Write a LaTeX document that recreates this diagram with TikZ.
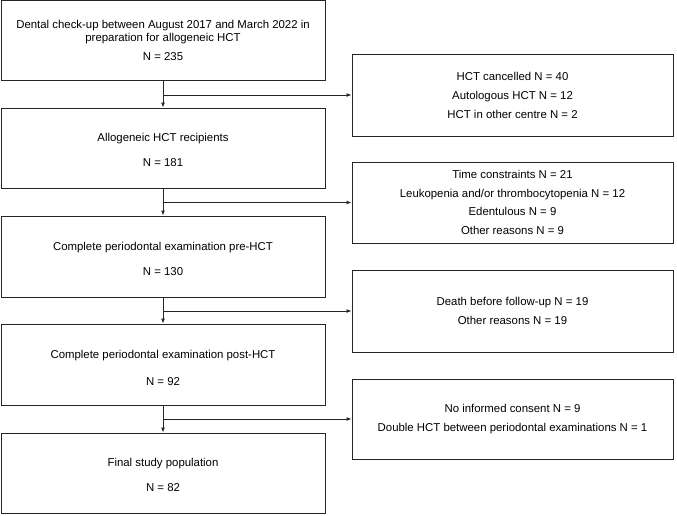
\documentclass[tikz,border=0pt]{standalone}
\usepackage{fontspec}
\setmainfont{Liberation Sans}
\usetikzlibrary{arrows.meta}
\begin{document}
\begin{tikzpicture}[x=1pt,y=-1pt,
  box/.style={draw=black!85, line width=0.9pt, inner sep=0pt},
  lbox/.style={box, minimum width=324pt, minimum height=80pt},
  rbox/.style={box, minimum width=321pt, align=center, font=\fontsize{11.4}{19}\selectfont},
  txt/.style={anchor=base, inner sep=0pt, font=\fontsize{11.4}{13.7}\selectfont},
  arr/.style={draw=black!85, line width=0.9pt, -{Latex[length=5pt,width=4pt]}}
]
\useasboundingbox (0,0) rectangle (677,515);

% left column boxes
\node[lbox] (B1) at (163,40.5) {};
\node[lbox] (B2) at (163,148) {};
\node[lbox, minimum height=81pt] (B3) at (163,256.5) {};
\node[lbox, minimum height=81pt] (B4) at (163,364.5) {};
\node[lbox] (B5) at (163,473) {};

% left texts
\node[txt] (t1a) at (163,28) {Dental check-up between August 2017 and March 2022 in};
\node[txt] (t1b) at (163,41) {preparation for allogeneic HCT};
\node[txt] (t1c) at (163,60) {N = 235};
\node[txt] (t2a) at (163,141) {Allogeneic HCT recipients};
\node[txt] (t2b) at (163,166) {N = 181};
\node[txt] (t3a) at (163,250) {Complete periodontal examination pre-HCT};
\node[txt] (t3b) at (163,275) {N = 130};
\node[txt] (t4a) at (163,358.5) {Complete periodontal examination post-HCT};
\node[txt] (t4b) at (163,385) {N = 92};
\node[txt] (t5a) at (163,466) {Final study population};
\node[txt] (t5b) at (163,491) {N = 82};

% right column boxes
\node[rbox, minimum height=82pt] (R1) at (512.5,95) {HCT cancelled N = 40\\Autologous HCT N = 12\\HCT in other centre N = 2};
\node[rbox, minimum height=81pt, font=\fontsize{11.4}{18.6}\selectfont] (R2) at (512.5,202.5) {Time constraints N = 21\\Leukopenia and/or thrombocytopenia N = 12\\Edentulous N = 9\\Other reasons N = 9};
\node[rbox, minimum height=82pt] (R3) at (512.5,311) {Death before follow-up N = 19\\Other reasons N = 19};
\node[rbox, minimum height=80pt] (R4) at (512.5,419) {No informed consent N = 9\\Double HCT between periodontal examinations N = 1};

% vertical arrows
\draw[arr] (B1.south) -- (B2.north);
\draw[arr] (B2.south) -- (B3.north);
\draw[arr] (B3.south) -- (B4.north);
\draw[arr] (B4.south) -- (B5.north);

% exclusion arrows
\draw[arr] (B1.south |- R1.west) -- (R1.west);
\draw[arr] (B2.south |- R2.west) -- (R2.west);
\draw[arr] (B3.south |- R3.west) -- (R3.west);
\draw[arr] (B4.south |- R4.west) -- (R4.west);
\end{tikzpicture}
\end{document}
